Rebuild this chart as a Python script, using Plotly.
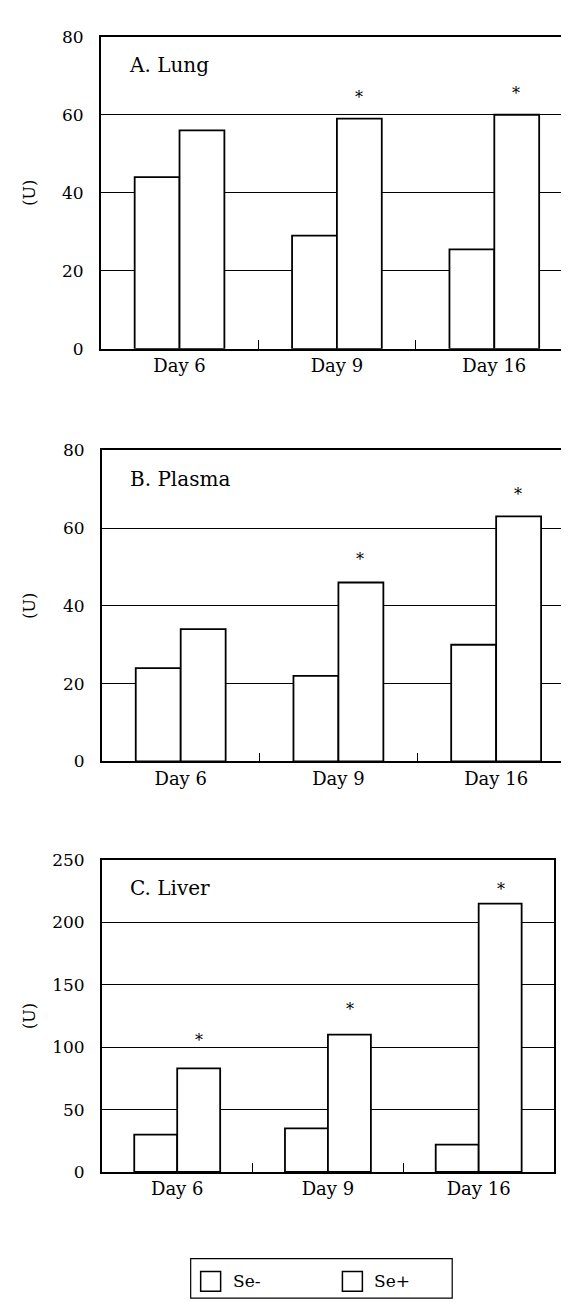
import plotly.graph_objects as go

W, H = 569, 1302

days = ["Day 6", "Day 9", "Day 16"]
series_names = ["Se-", "Se+"]

lung_minus = [44, 29, 25.5]
lung_plus = [56, 59, 60]
plasma_minus = [24, 22, 30]
plasma_plus = [34, 46, 63]
liver_minus = [30, 35, 22]
liver_plus = [83, 110, 215]

# asterisk markers (day, y value) for significant Se+ bars
lung_stars = [("Day 9", 64.5), ("Day 16", 65.5)]
plasma_stars = [("Day 9", 52), ("Day 16", 68.5)]
liver_stars = [("Day 6", 105), ("Day 9", 130), ("Day 16", 226)]

panel_titles = ["A. Lung", "B. Plasma", "C. Liver"]
y_ranges = [[0, 80], [0, 80], [0, 250]]
y_dticks = [20, 20, 50]

# pixel geometry of each panel: (left, right, top, bottom)
panels_px = [(93, 566, 19, 336), (94, 568, 439, 755), (94, 547, 855, 1172)]

FONT = "DejaVu Serif"

fig = go.Figure()
annotations = []
layout = {}
data_sets = [(lung_minus, lung_plus, lung_stars),
             (plasma_minus, plasma_plus, plasma_stars),
             (liver_minus, liver_plus, liver_stars)]

for i, ((mn, pl, stars), (l, r, t, b)) in enumerate(zip(data_sets, panels_px)):
    n = i + 1
    xa = "x" if n == 1 else f"x{n}"
    ya = "y" if n == 1 else f"y{n}"
    for name, vals in zip(series_names, (mn, pl)):
        fig.add_trace(go.Bar(
            x=days, y=vals, name=name, xaxis=xa, yaxis=ya,
            marker=dict(color="white", line=dict(color="black", width=1.8)),
            showlegend=False,
        ))
    layout[f"xaxis{'' if n == 1 else n}"] = dict(
        domain=[l / W, r / W], anchor=ya, type="category",
        showline=True, mirror=True, linecolor="black", linewidth=1.6,
        ticks="inside", tickson="boundaries", ticklen=9, tickcolor="black", tickwidth=1.3,
        tickfont=dict(family=FONT, size=18, color="black"),
        showgrid=False, fixedrange=True,
    )
    layout[f"yaxis{'' if n == 1 else n}"] = dict(
        domain=[1 - b / H, 1 - t / H], anchor=xa,
        range=y_ranges[i], dtick=y_dticks[i],
        showline=True, mirror=True, linecolor="black", linewidth=1.6,
        showgrid=True, gridcolor="black", gridwidth=1,
        zeroline=False, ticks="", ticklabelstandoff=12,
        tickfont=dict(family=FONT, size=17, color="black"),
        fixedrange=True,
    )
    # panel title
    annotations.append(dict(
        x=(l + 26) / W, y=1 - (t + 29) / H, xref="paper", yref="paper",
        xanchor="left", yanchor="middle", showarrow=False,
        text=panel_titles[i], font=dict(family=FONT, size=20, color="black"),
    ))
    # y-axis title
    annotations.append(dict(
        x=22 / W, y=1 - ((t + b) / 2) / H, xref="paper", yref="paper",
        xanchor="center", yanchor="middle", showarrow=False, textangle=-90,
        text="(U)", font=dict(family=FONT, size=16, color="black"),
    ))
    # asterisks above Se+ bars
    for day, yv in stars:
        annotations.append(dict(
            x=day, y=yv, xref=xa, yref=ya, xshift=22, showarrow=False,
            xanchor="center", yanchor="middle",
            text="*", font=dict(family=FONT, size=16, color="black"),
        ))

# legend box drawn at the bottom
shapes = [
    dict(type="rect", xref="paper", yref="paper",
         x0=183 / W, x1=445 / W, y0=1 - 1300 / H, y1=1 - 1260 / H,
         line=dict(color="black", width=1.2), fillcolor="white"),
]
leg_items = [(193, series_names[0]), (335, series_names[1])]
for x0, name in leg_items:
    shapes.append(dict(type="rect", xref="paper", yref="paper",
                       x0=x0 / W, x1=(x0 + 20) / W,
                       y0=1 - 1293 / H, y1=1 - 1273 / H,
                       line=dict(color="black", width=1.5), fillcolor="white"))
    annotations.append(dict(
        x=(x0 + 30) / W, y=1 - 1283 / H, xref="paper", yref="paper",
        xanchor="left", yanchor="middle", showarrow=False,
        text=name, font=dict(family=FONT, size=17, color="black"),
    ))

fig.update_layout(
    width=W, height=H, autosize=False,
    margin=dict(l=0, r=0, t=0, b=0),
    paper_bgcolor="white", plot_bgcolor="white",
    barmode="group", bargap=0.43, bargroupgap=0,
    annotations=annotations, shapes=shapes,
    showlegend=False,
    **layout,
)

fig.write_html("out.html")
